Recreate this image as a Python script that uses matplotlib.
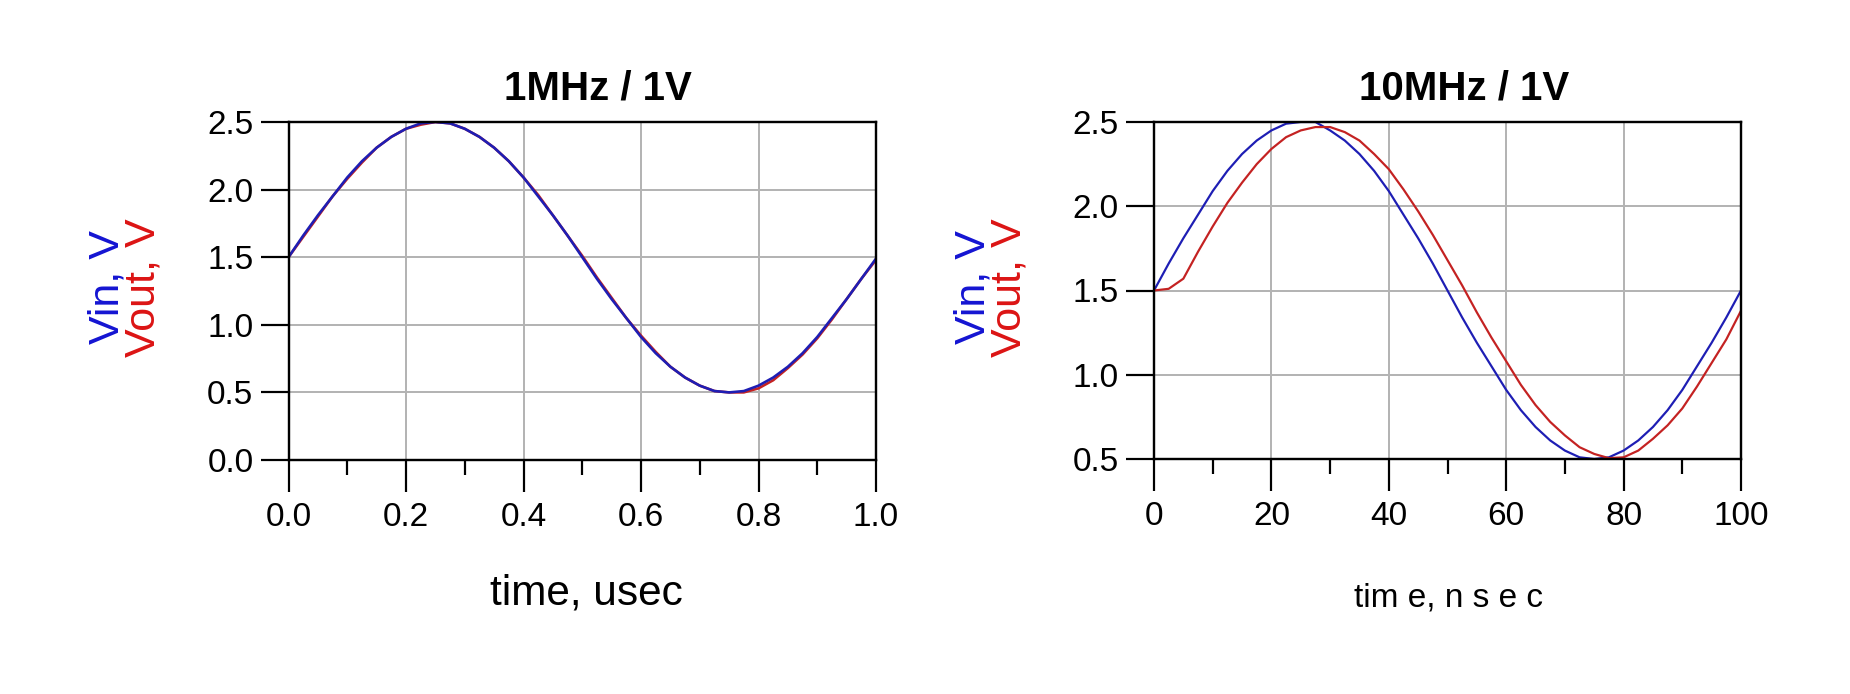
import numpy as np
import matplotlib
matplotlib.use("Agg")
import matplotlib.pyplot as plt
from matplotlib.ticker import MultipleLocator, FormatStrFormatter

t_us = np.linspace(0, 1.0, 41)
vin_1m = [1.50, 1.66, 1.81, 1.95, 2.09, 2.21, 2.31, 2.39, 2.45, 2.49, 2.50,
          2.49, 2.45, 2.39, 2.31, 2.21, 2.09, 1.95, 1.81, 1.66, 1.50,
          1.34, 1.19, 1.05, 0.91, 0.79, 0.69, 0.61, 0.55, 0.51, 0.50,
          0.51, 0.55, 0.61, 0.69, 0.79, 0.91, 1.05, 1.19, 1.34, 1.49]
vout_1m = [1.50, 1.65, 1.80, 1.95, 2.08, 2.20, 2.31, 2.39, 2.45, 2.48, 2.50,
           2.49, 2.45, 2.39, 2.31, 2.21, 2.09, 1.96, 1.81, 1.66, 1.51,
           1.35, 1.20, 1.05, 0.92, 0.80, 0.69, 0.61, 0.55, 0.51, 0.50,
           0.50, 0.53, 0.59, 0.68, 0.78, 0.90, 1.04, 1.19, 1.34, 1.48]

t_ns = np.linspace(0, 100, 41)
vin_10m = [1.50, 1.66, 1.81, 1.95, 2.09, 2.21, 2.31, 2.39, 2.45, 2.49, 2.50,
           2.50, 2.45, 2.39, 2.31, 2.21, 2.09, 1.95, 1.81, 1.66, 1.50,
           1.34, 1.19, 1.05, 0.91, 0.79, 0.69, 0.61, 0.55, 0.51, 0.50,
           0.51, 0.55, 0.61, 0.69, 0.79, 0.91, 1.05, 1.19, 1.34, 1.50]
vout_10m = [1.50, 1.51, 1.57, 1.73, 1.88, 2.02, 2.14, 2.25, 2.34, 2.41, 2.45,
            2.47, 2.47, 2.44, 2.39, 2.31, 2.22, 2.10, 1.97, 1.83, 1.68,
            1.53, 1.37, 1.22, 1.08, 0.94, 0.82, 0.72, 0.64, 0.57, 0.53,
            0.505, 0.51, 0.55, 0.62, 0.70, 0.80, 0.93, 1.07, 1.21, 1.38]

titles = ["1MHz / 1V", "10MHz / 1V"]
xlabels = ["time, usec", "tim e, n s e c"]

BLUE_LINE = "#1e1eb4"
RED_LINE = "#c42222"
BLUE_TXT = "#1414d2"
RED_TXT = "#dc1414"

plt.rcParams['font.family'] = ['Liberation Sans', 'DejaVu Sans']

W, H = 1850, 694
PT = 0.72  # points per pixel at dpi 100
fig = plt.figure(figsize=(W / 100, H / 100), dpi=100)


def px_axes(x0, x1, y0, y1):
    return fig.add_axes([x0 / W, 1 - y1 / H, (x1 - x0) / W, (y1 - y0) / H])


def ftext(x, y, s, **kw):
    fig.text(x / W, 1 - y / H, s, ha="center", va="center", **kw)


def style(ax, xmaj, xmin, xfmt):
    ax.xaxis.set_major_locator(MultipleLocator(xmaj))
    ax.xaxis.set_minor_locator(MultipleLocator(xmin))
    ax.yaxis.set_major_locator(MultipleLocator(0.5))
    ax.xaxis.set_major_formatter(FormatStrFormatter(xfmt))
    ax.yaxis.set_major_formatter(FormatStrFormatter("%.1f"))
    ax.grid(True, which="major", color="#b4b4b4", lw=2 * PT)
    ax.set_axisbelow(True)
    for sp in ax.spines.values():
        sp.set_linewidth(2.4 * PT)
    ax.tick_params(axis="x", which="major", length=32 * PT, width=2.2 * PT,
                   labelsize=24, pad=10 * PT)
    ax.tick_params(axis="x", which="minor", length=15 * PT, width=2.2 * PT)
    ax.tick_params(axis="y", which="major", length=28 * PT, width=2.2 * PT,
                   labelsize=24, pad=7 * PT)


ax1 = px_axes(288.5, 876, 122, 460)
ax1.plot(t_us, vout_1m, color=RED_LINE, lw=2.6 * PT)
ax1.plot(t_us, vin_1m, color=BLUE_LINE, lw=2.6 * PT)
ax1.set_xlim(0, 1.0)
ax1.set_ylim(0, 2.5)
style(ax1, 0.2, 0.1, "%.1f")

ax2 = px_axes(1154, 1741, 122, 459)
ax2.plot(t_ns, vin_10m, color=BLUE_LINE, lw=2.2 * PT)
ax2.plot(t_ns, vout_10m, color=RED_LINE, lw=2.2 * PT)
ax2.set_xlim(0, 100)
ax2.set_ylim(0.5, 2.5)
style(ax2, 20, 10, "%d")

# titles, axis labels
ftext(598, 88, titles[0], fontsize=29, fontweight="bold")
ftext(1464, 88, titles[1], fontsize=29, fontweight="bold")
ftext(586, 594, xlabels[0], fontsize=30.5)
ftext(1449, 598, xlabels[1], fontsize=24)
for x0 in (288, 1154):
    ftext(x0 - 180, 287, "Vin, V", fontsize=31, rotation=90, color=BLUE_TXT)
    ftext(x0 - 144, 288, "Vout, V", fontsize=31, rotation=90, color=RED_TXT)

fig.savefig("out.png", dpi=100)
